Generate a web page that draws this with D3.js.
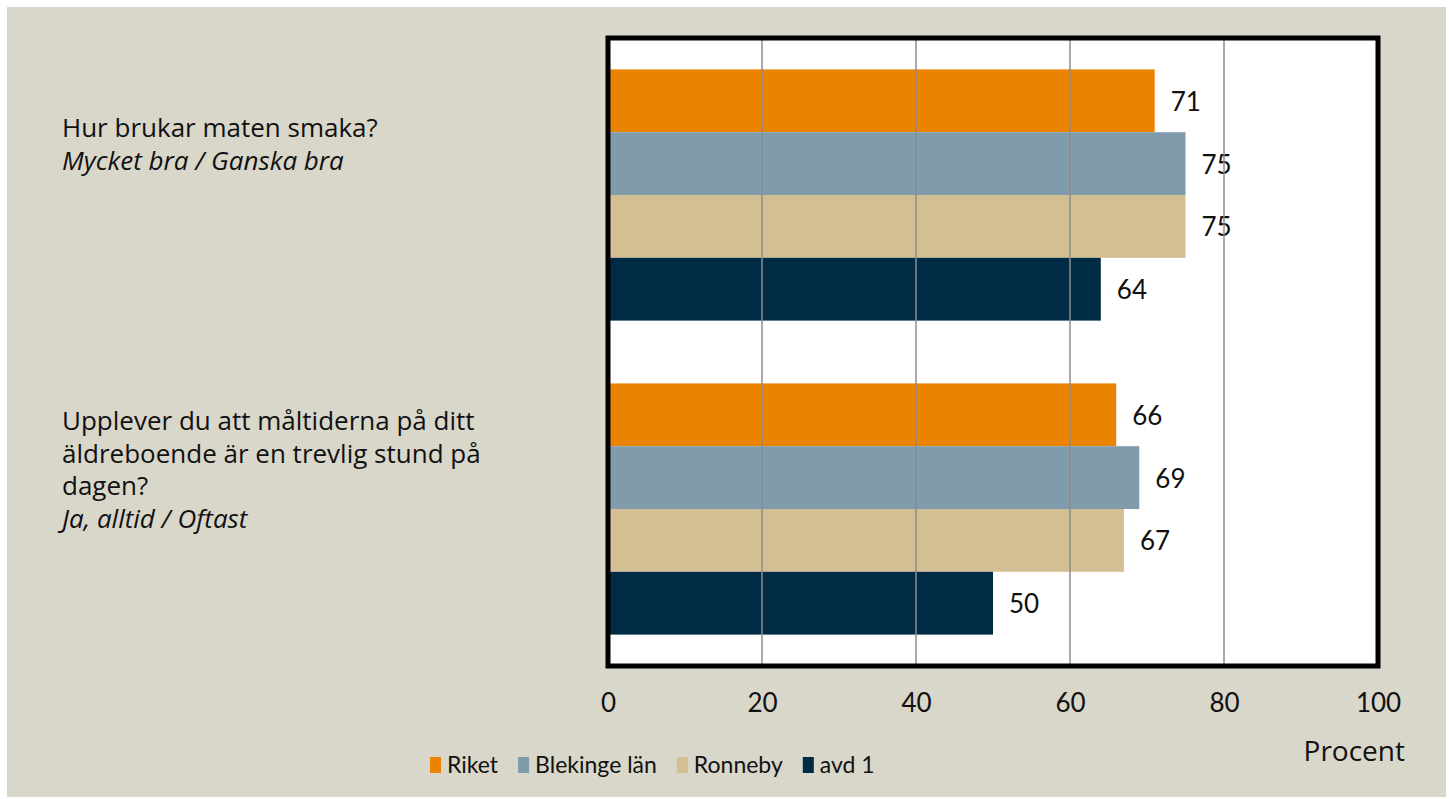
<!DOCTYPE html>
<html>
<head>
<meta charset="utf-8">
<script src="https://cdn.jsdelivr.net/npm/d3@7"></script>
<style>
  body { margin: 0; background: #fff; }
  text { font-family: "Lato", "Open Sans", sans-serif; fill: #111; }
  .wide { font-family: "Open Sans", "Lato", sans-serif; }
</style>
</head>
<body>
<div id="chart"></div>
<script>
// data
const questions = ["Hur brukar maten smaka?", "Upplever du att måltiderna på ditt äldreboende är en trevlig stund på dagen?"];
const questionLines = [
  ["Hur brukar maten smaka?"],
  ["Upplever du att måltiderna på ditt", "äldreboende är en trevlig stund på", "dagen?"]
];
const answerLines = ["Mycket bra / Ganska bra", "Ja, alltid / Oftast"];
const seriesNames = ["Riket", "Blekinge län", "Ronneby", "avd 1"];
const riket = [71, 66];
const blekinge = [75, 69];
const ronneby = [75, 67];
const avd1 = [64, 50];
const xTicks = [0, 20, 40, 60, 80, 100];
const colors = ["#E98300", "#7F9BAC", "#D4BF95", "#002B45"];

const values = [riket, blekinge, ronneby, avd1];

const W = 1449, H = 799;
const plot = {left: 608, right: 1378, top: 38, bottom: 666};

const svg = d3.select("#chart").append("svg")
  .attr("width", W).attr("height", H);

// background
svg.append("rect").attr("x", 7).attr("y", 7).attr("width", W - 10).attr("height", H - 9)
  .attr("fill", "#D9D7CA");

const x = d3.scaleLinear().domain([0, 100]).range([plot.left, plot.right]);
const y0 = d3.scaleBand().domain(questions).range([plot.top, plot.bottom])
  .paddingInner(0.2).paddingOuter(0.1);
const y1 = d3.scaleBand().domain(seriesNames).range([0, y0.bandwidth()]);

// plot area
svg.append("rect").attr("x", plot.left).attr("y", plot.top)
  .attr("width", plot.right - plot.left).attr("height", plot.bottom - plot.top)
  .attr("fill", "#fff");

const groups = svg.selectAll("g.grp").data(questions).join("g")
  .attr("class", "grp")
  .attr("transform", d => `translate(0,${y0(d)})`);

// value labels (under gridlines like the original)
groups.each(function(q, qi) {
  d3.select(this).selectAll("text.val").data(seriesNames).join("text")
    .attr("class", "val")
    .attr("x", (s, si) => x(values[si][qi]) + 16)
    .attr("y", s => y1(s) + y1.bandwidth() / 2 + 10)
    .attr("font-size", 26)
    .text((s, si) => values[si][qi]);
});

// gridlines
svg.append("g").selectAll("line").data(xTicks.slice(1, -1)).join("line")
  .attr("x1", d => x(d)).attr("x2", d => x(d))
  .attr("y1", plot.top).attr("y2", plot.bottom)
  .attr("stroke", "#8c8c8c").attr("stroke-width", 1.5);

// bars
groups.each(function(q, qi) {
  d3.select(this).selectAll("rect").data(seriesNames).join("rect")
    .attr("x", x(0))
    .attr("y", s => y1(s))
    .attr("width", (s, si) => x(values[si][qi]) - x(0))
    .attr("height", y1.bandwidth())
    .attr("fill", (s, si) => colors[si]);
});

// frame
svg.append("rect").attr("x", plot.left).attr("y", plot.top)
  .attr("width", plot.right - plot.left).attr("height", plot.bottom - plot.top)
  .attr("fill", "none").attr("stroke", "#000").attr("stroke-width", 5);

// x axis tick labels
const xAxis = d3.axisBottom(x).tickValues(xTicks).tickSize(0).tickPadding(0);
const ax = svg.append("g").attr("transform", `translate(0,${plot.bottom + 46})`).call(xAxis);
ax.select(".domain").remove();
ax.attr("font-family", null);
ax.selectAll("text").attr("font-size", 26).attr("dy", 0).style("fill", "#111");

svg.append("text").attr("class", "wide").attr("x", 1405).attr("y", 761).attr("text-anchor", "end")
  .attr("font-size", 28).text("Procent");

// question labels
questions.forEach((q, qi) => {
  const lines = questionLines[qi];
  const n = lines.length + 1;
  const yStart = y0(q) + 68 - (n - 2) * 10.5;
  const t = svg.append("text").attr("class", "wide").attr("x", 62).attr("y", yStart).attr("font-size", 26);
  lines.forEach((l, li) => {
    t.append("tspan").attr("x", 62).attr("dy", li === 0 ? 0 : 32.5).text(l);
  });
  t.append("tspan").attr("x", 62).attr("dy", 32.5).attr("font-style", "italic").text(answerLines[qi]);
});

// legend
const legend = svg.append("g").attr("transform", "translate(430,757)");
let lx = 0;
seriesNames.forEach((s, si) => {
  legend.append("rect").attr("x", lx).attr("y", 0).attr("width", 11).attr("height", 16)
    .attr("fill", colors[si]);
  const t = legend.append("text").attr("x", lx + 17).attr("y", 16)
    .attr("font-size", 23).text(s);
  lx += 17 + t.node().getComputedTextLength() + 20;
});
</script>
</body>
</html>
